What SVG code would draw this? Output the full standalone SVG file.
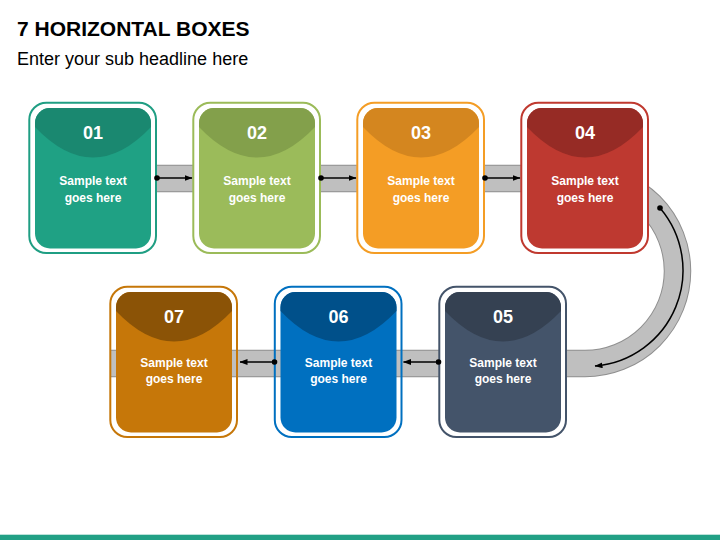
<svg xmlns="http://www.w3.org/2000/svg" width="720" height="540" viewBox="0 0 720 540">
<defs>
<style>
.title{font-family:"Liberation Sans",Arial,sans-serif;font-weight:bold;font-size:21px;fill:#000}
.sub{font-family:"Liberation Sans",Arial,sans-serif;font-size:18px;fill:#000}
.num{font-family:"Liberation Sans",Arial,sans-serif;font-weight:bold;font-size:18px;fill:#fff;text-anchor:middle}
.txt{font-family:"Liberation Sans",Arial,sans-serif;font-weight:bold;font-size:12px;fill:#fff;text-anchor:middle}
.outer{stroke-width:2;fill:#fff}
.outer.clear{fill:none}
.conn{stroke:#000;stroke-width:1.5;fill:none;marker-start:url(#dot);marker-end:url(#head)}
</style>
<marker id="dot" viewBox="0 0 6 6" refX="3" refY="3" markerWidth="6" markerHeight="6" markerUnits="userSpaceOnUse">
<circle cx="3" cy="3" r="2.8" fill="#000"/>
</marker>
<marker id="head" viewBox="0 0 8 6" refX="7.5" refY="3" markerWidth="8" markerHeight="6" markerUnits="userSpaceOnUse" orient="auto">
<path d="M0,0 L8,3 L0,6 Z" fill="#000"/>
</marker>
</defs>
<rect width="720" height="540" fill="#fff"/>
<text class="title" x="17" y="36">7 HORIZONTAL BOXES</text>
<text class="sub" x="17" y="65">Enter your sub headline here</text>

<g id="band">
<path d="M150,178.5 H585 A92.5,92.5 0 0 1 585,363.5 H111" fill="none" stroke="#8f8f8f" stroke-width="27.5"/>
<path d="M150,178.5 H585 A92.5,92.5 0 0 1 585,363.5 H111" fill="none" stroke="#bfbfbf" stroke-width="25.5"/>
</g>

<g id="box1">
<rect class="outer" x="29.3" y="102.7" width="126.7" height="150.3" rx="17" stroke="#1f9e83"/>
<rect x="35" y="108" width="116" height="140.5" rx="15" fill="#1fa184"/>
<path d="M35,127 V123 A15,15 0 0 1 50,108 H136 A15,15 0 0 1 151,123 V127 Q93,188 35,127 Z" fill="#1a8870"/>
<text class="num" x="93" y="139">01</text>
<text class="txt" x="93" y="185">Sample text</text>
<text class="txt" x="93" y="202">goes here</text>
</g>

<g id="box2" transform="translate(164,0)">
<rect class="outer" x="29.3" y="102.7" width="126.7" height="150.3" rx="17" stroke="#9bbb59"/>
<rect x="35" y="108" width="116" height="140.5" rx="15" fill="#9bbb5a"/>
<path d="M35,127 V123 A15,15 0 0 1 50,108 H136 A15,15 0 0 1 151,123 V127 Q93,188 35,127 Z" fill="#83a04b"/>
<text class="num" x="93" y="139">02</text>
<text class="txt" x="93" y="185">Sample text</text>
<text class="txt" x="93" y="202">goes here</text>
</g>

<g id="box3" transform="translate(328,0)">
<rect class="outer" x="29.3" y="102.7" width="126.7" height="150.3" rx="17" stroke="#f49d25"/>
<rect x="35" y="108" width="116" height="140.5" rx="15" fill="#f49d25"/>
<path d="M35,127 V123 A15,15 0 0 1 50,108 H136 A15,15 0 0 1 151,123 V127 Q93,188 35,127 Z" fill="#d4861f"/>
<text class="num" x="93" y="139">03</text>
<text class="txt" x="93" y="185">Sample text</text>
<text class="txt" x="93" y="202">goes here</text>
</g>

<g id="box4" transform="translate(492,0)">
<rect class="outer" x="29.3" y="102.7" width="126.7" height="150.3" rx="17" stroke="#c0392f"/>
<rect x="35" y="108" width="116" height="140.5" rx="15" fill="#be3930"/>
<path d="M35,127 V123 A15,15 0 0 1 50,108 H136 A15,15 0 0 1 151,123 V127 Q93,188 35,127 Z" fill="#962b25"/>
<text class="num" x="93" y="139">04</text>
<text class="txt" x="93" y="185">Sample text</text>
<text class="txt" x="93" y="202">goes here</text>
</g>

<g id="box5" transform="translate(410,184)">
<rect class="outer" x="29.3" y="102.7" width="126.7" height="150.3" rx="17" stroke="#44546a"/>
<rect x="35" y="108" width="116" height="140.5" rx="15" fill="#44546a"/>
<path d="M35,127 V123 A15,15 0 0 1 50,108 H136 A15,15 0 0 1 151,123 V127 Q93,188 35,127 Z" fill="#354152"/>
<text class="num" x="93" y="139">05</text>
<text class="txt" x="93" y="183">Sample text</text>
<text class="txt" x="93" y="199">goes here</text>
</g>

<g id="box6" transform="translate(245.5,184)">
<rect class="outer clear" x="29.3" y="102.7" width="126.7" height="150.3" rx="17" stroke="#0070c0"/>
<rect x="35" y="108" width="116" height="140.5" rx="15" fill="#0070c0"/>
<path d="M35,127 V123 A15,15 0 0 1 50,108 H136 A15,15 0 0 1 151,123 V127 Q93,188 35,127 Z" fill="#00508a"/>
<text class="num" x="93" y="139">06</text>
<text class="txt" x="93" y="183">Sample text</text>
<text class="txt" x="93" y="199">goes here</text>
</g>

<g id="box7" transform="translate(81,184)">
<rect class="outer clear" x="29.3" y="102.7" width="126.7" height="150.3" rx="17" stroke="#c67709"/>
<rect x="35" y="108" width="116" height="140.5" rx="15" fill="#c67709"/>
<path d="M35,127 V123 A15,15 0 0 1 50,108 H136 A15,15 0 0 1 151,123 V127 Q93,188 35,127 Z" fill="#8b5306"/>
<text class="num" x="93" y="139">07</text>
<text class="txt" x="93" y="183">Sample text</text>
<text class="txt" x="93" y="199">goes here</text>
</g>

<g id="connectors">
<path class="conn" d="M157,178 H192"/>
<path class="conn" d="M321,178 H356"/>
<path class="conn" d="M485,178 H520"/>
<path class="conn" d="M660,208 A96,96 0 0 1 595,366"/>
<path class="conn" d="M438.5,362 H403.5"/>
<path class="conn" d="M274.5,362 H240"/>
</g>

<rect x="0" y="534.7" width="720" height="5.3" fill="#22a085"/>
</svg>
